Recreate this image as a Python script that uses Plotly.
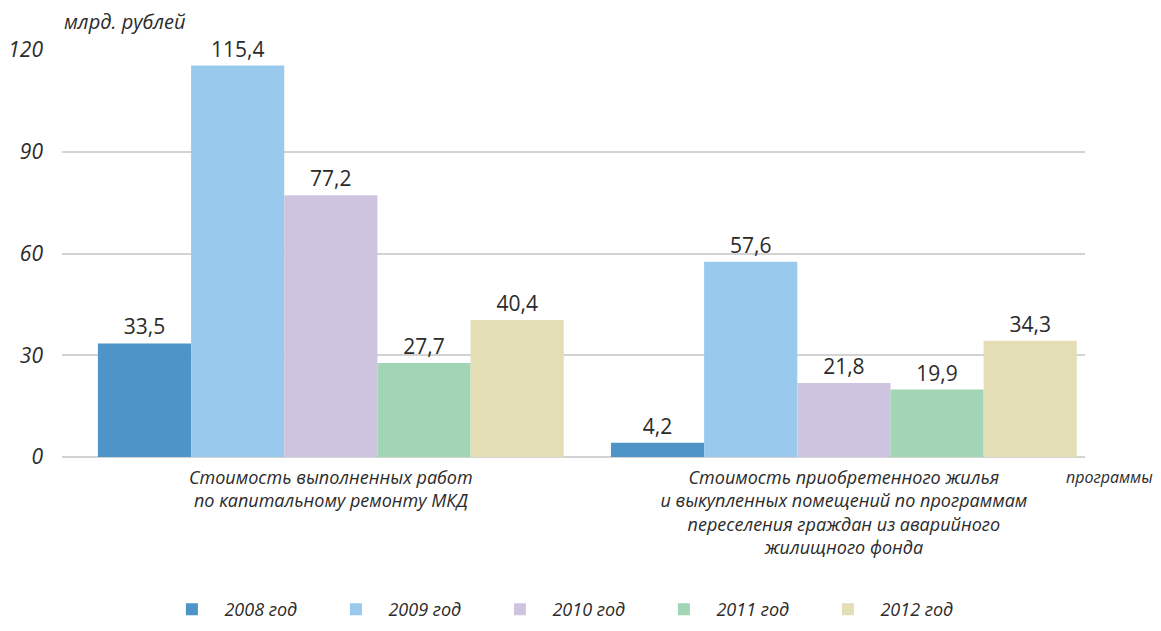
import plotly.graph_objects as go

categories = ["Стоимость выполненных работ<br>по капитальному ремонту МКД",
              "Стоимость приобретенного жилья<br>и выкупленных помещений по программам<br>переселения граждан из аварийного<br>жилищного фонда"]
years = ["2008 год", "2009 год", "2010 год", "2011 год", "2012 год"]
values = {
    "2008 год": [33.5, 4.2],
    "2009 год": [115.4, 57.6],
    "2010 год": [77.2, 21.8],
    "2011 год": [27.7, 19.9],
    "2012 год": [40.4, 34.3],
}
colors = ["#4f94c6", "#99c9ec", "#cfc4df", "#a1d5b6", "#e3deb6"]
y_ticks = [0, 30, 60, 90, 120]

FONT = "Open Sans"
TXT = "#2b2b2b"

fig = go.Figure()
xpos = list(range(len(categories)))
for name, col in zip(years, colors):
    vals = values[name]
    fig.add_trace(go.Bar(
        x=xpos, y=vals, name=name, marker=dict(color=col, line=dict(width=0)),
        text=[f"{v:.1f}".replace(".", ",") for v in vals],
        textposition="outside", cliponaxis=False,
        textfont=dict(family=FONT, size=21, color=TXT),
    ))

fig.update_layout(
    width=1153, height=615,
    margin=dict(l=54, r=76, t=42, b=166, autoexpand=False),
    paper_bgcolor="white", plot_bgcolor="white",
    barmode="group", bargap=0.092, bargroupgap=0,
    font=dict(family=FONT, color=TXT),
    legend=dict(orientation="h", x=0.496, xanchor="center", y=-0.375, yanchor="middle",
                entrywidth=94, font=dict(family=FONT, size=18, color=TXT, style="italic"),
                traceorder="normal", itemwidth=55),
    xaxis=dict(range=[-0.524, 1.470], tickvals=xpos,
               ticktext=[f"<i>{c}</i>" for c in categories],
               tickfont=dict(family=FONT, size=18, color=TXT),
               showgrid=False, zeroline=False, showline=False, ticks="", ticklabelstandoff=8,
               automargin=False),
    yaxis=dict(range=[0, 120], tickvals=y_ticks, ticktext=[str(t) for t in y_ticks],
               tickfont=dict(family=FONT, size=21, color=TXT, style="italic"),
               showgrid=True, gridcolor="#d3d3d3", gridwidth=2,
               zeroline=True, zerolinecolor="#d3d3d3", zerolinewidth=2,
               showline=False, ticks="", ticklabelstandoff=18, automargin=False),
    annotations=[
        dict(text="млрд. рублей", xref="paper", yref="paper", x=0.0, y=1.0, xanchor="left",
             yanchor="middle", yshift=29, showarrow=False,
             font=dict(family=FONT, size=20, color=TXT, style="italic")),
        dict(text="программы", xref="paper", yref="paper", x=1.0, y=0.0, xanchor="right",
             yanchor="middle", xshift=70, yshift=-20, showarrow=False,
             font=dict(family=FONT, size=16, color=TXT, style="italic")),
    ],
)

fig.write_html("out.html")
